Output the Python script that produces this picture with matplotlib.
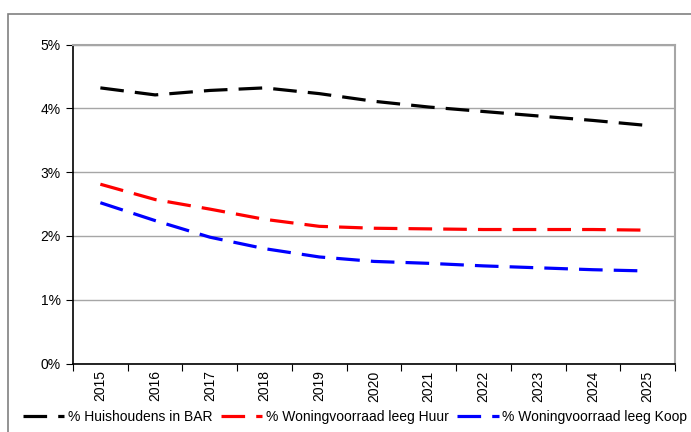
import matplotlib
matplotlib.use("Agg")
import matplotlib.pyplot as plt
from matplotlib.patches import Rectangle
from matplotlib.ticker import FuncFormatter, FixedLocator

plt.rcParams['font.family'] = ['Liberation Sans', 'DejaVu Sans']
plt.rcParams['lines.scale_dashes'] = False

years = ['2015', '2016', '2017', '2018', '2019', '2020', '2021', '2022', '2023', '2024', '2025']
huishoudens = [4.32, 4.21, 4.28, 4.32, 4.23, 4.11, 4.02, 3.95, 3.88, 3.81, 3.73]
huur = [2.81, 2.57, 2.42, 2.26, 2.15, 2.12, 2.11, 2.10, 2.10, 2.10, 2.09]
koop = [2.52, 2.24, 1.98, 1.80, 1.67, 1.60, 1.57, 1.53, 1.50, 1.47, 1.45]
labels = ['% Huishoudens in BAR', '% Woningvoorraad leeg Huur', '% Woningvoorraad leeg Koop']
colors = ['#000000', '#ff0000', '#0000ff']

W, H = 691, 432
fig = plt.figure(figsize=(W / 100, H / 100), dpi=100)
fig.patch.set_facecolor('white')

# outer chart frame (extends beyond right/bottom edge)
fig.add_artist(Rectangle((8 / W, -0.1), 1.2, 1 - 14 / H + 0.1, transform=fig.transFigure,
                         fill=False, edgecolor='#808080', linewidth=1.2))

ax = fig.add_axes([73 / W, (H - 363.5) / H, (675 - 73) / W, (363.5 - 44.5) / H])
x = list(range(len(years)))
for vals, c, lab in zip([huishoudens, huur, koop], colors, labels):
    ax.plot(x, vals, color=c, linewidth=2.3, dashes=[17, 8], label=lab,
            solid_capstyle='butt', dash_capstyle='butt')

ax.set_xlim(-0.5, len(years) - 0.5)
ax.set_ylim(0, 5)
ax.set_yticks([0, 1, 2, 3, 4, 5])
ax.yaxis.set_major_formatter(FuncFormatter(lambda v, p: f"{v:.0f}%"))
ax.yaxis.grid(True, color='#a6a6a6', linewidth=1.0)
ax.set_axisbelow(True)

# category axis: ticks between categories, labels at centers
ax.xaxis.set_major_locator(FixedLocator([i - 0.5 for i in range(len(years) + 1)]))
ax.xaxis.set_major_formatter(FuncFormatter(lambda v, p: ''))
ax.set_xticks(x, minor=True)
ax.set_xticklabels(years, minor=True, rotation=90, fontsize=10)
ax.tick_params(axis='x', which='minor', length=0, pad=5)
ax.tick_params(axis='x', which='major', length=5, width=0.8, color='#000000', direction='out')
ax.tick_params(axis='y', length=5, width=0.8, direction='out', labelsize=10, pad=4)

for s in ['left', 'bottom']:
    ax.spines[s].set_color('#000000')
    ax.spines[s].set_linewidth(1.2)
for s in ['top', 'right']:
    ax.spines[s].set_color('#a6a6a6')
    ax.spines[s].set_linewidth(1.5)

fig.legend(loc='center', bbox_to_anchor=(355 / W, (H - 417) / H), ncol=3, frameon=False,
           fontsize=10, handlelength=3.0, handletextpad=0.25, columnspacing=0.6,
           borderaxespad=0, borderpad=0)

fig.savefig('out.png', dpi=100, facecolor='white')
